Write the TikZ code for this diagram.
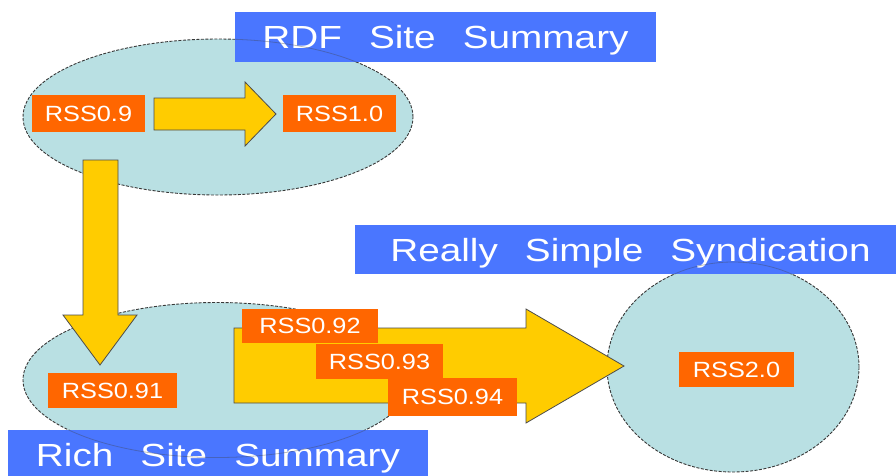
\documentclass[tikz,border=0pt]{standalone}
\usepackage{fontspec}
\setmainfont{Liberation Sans}
\usepackage{graphicx}
\usetikzlibrary{shapes.geometric}
\definecolor{ttlblue}{RGB}{74,118,255}
\definecolor{lblorange}{RGB}{255,102,0}
\definecolor{arryellow}{RGB}{255,204,0}
\definecolor{ellcyan}{RGB}{185,224,227}
\newcommand\lbltxt[1]{\scalebox{1.15}[1]{#1}}
\newcommand\ttltxt[3]{\scalebox{1.21}[1]{#1\hspace{0.7em}#2\hspace{0.7em}#3}}
\begin{document}
\begin{tikzpicture}[x=1pt,y=-1pt,
  ttl/.style={rectangle, fill=ttlblue, text=white, inner sep=0pt, outer sep=0pt,
    font=\fontsize{32}{36}\selectfont, text height=23pt, text depth=0pt},
  lbl/.style={rectangle, fill=lblorange, text=white, inner sep=0pt, outer sep=0pt,
    font=\fontsize{22}{24}\selectfont, text height=15.8pt, text depth=0pt},
  ell/.style={ellipse, fill=ellcyan, draw=black!78, line width=0.9pt,
    dash pattern=on 3pt off 1.5pt, inner sep=0pt, outer sep=0pt},
  blockarrow/.style={fill=arryellow, draw=black!70, line width=0.8pt, line join=miter},
  faint/.style={draw=black!75, draw opacity=0.35, line width=0.8pt}
]
\fill[white] (0,0) rectangle (896,475);
\useasboundingbox (0,0) rectangle (896,475);

% ellipses
\node[ell, minimum width=390pt, minimum height=156pt] (e1) at (218,117) {};
\node[ell, minimum width=388pt, minimum height=155pt] (e2) at (217,380) {};
\node[ell, minimum width=252pt, minimum height=210pt] (e3) at (733,367) {};

% block arrows
\draw[blockarrow] (154,98) -- (245,98) -- (245,82) -- (276,114) -- (245,146)
  -- (245,130) -- (154,130) -- cycle;
\draw[blockarrow] (83,160) -- (118,160) -- (118,315) -- (137,315) -- (100,365)
  -- (63,315) -- (83,315) -- cycle;
\draw[blockarrow] (234,328) -- (526,328) -- (526,309) -- (624,366) -- (526,423)
  -- (526,403) -- (234,403) -- cycle;

% labels
\node[lbl, minimum width=113pt, minimum height=37pt] (r09) at (88.5,113.5) {\lbltxt{RSS0.9}};
\node[lbl, minimum width=113pt, minimum height=37pt] (r10) at (339.5,113.5) {\lbltxt{RSS1.0}};
\node[lbl, minimum width=129pt, minimum height=35pt] (r091) at (112.5,390.5) {\lbltxt{RSS0.91}};
\node[lbl, minimum width=136pt, minimum height=34pt] (r092) at (310,326) {\lbltxt{RSS0.92}};
\node[lbl, minimum width=127pt, minimum height=35pt] (r093) at (379.5,361.5) {\lbltxt{RSS0.93}};
\node[lbl, minimum width=129pt, minimum height=38pt] (r094) at (452.5,397) {\lbltxt{RSS0.94}};
\node[lbl, minimum width=115pt, minimum height=35pt] (r20) at (736.5,369.5) {\lbltxt{RSS2.0}};

% titles
\node[ttl, minimum width=421pt, minimum height=50pt] (t1) at (445.5,37) {\ttltxt{RDF}{Site}{Summary}};
\node[ttl, minimum width=420pt, minimum height=49pt] (t2) at (218,454.5) {\ttltxt{Rich}{Site}{Summary}};
\node[ttl, minimum width=551pt, minimum height=49pt] (t3) at (630.5,249.5) {\ttltxt{Really}{Simple}{Syndication}};

% faint outlines seen through the title boxes
\begin{scope}
\clip (t1.south west) rectangle (t1.north east);
\draw[faint] (e1.center) ellipse [x radius=195, y radius=78];
\end{scope}
\begin{scope}
\clip (t2.south west) rectangle (t2.north east);
\draw[faint] (e2.center) ellipse [x radius=194, y radius=77.5];
\end{scope}
\begin{scope}
\clip (t3.south west) rectangle (t3.north east);
\draw[faint] (e3.center) ellipse [x radius=126, y radius=105];
\end{scope}
\end{tikzpicture}
\end{document}
